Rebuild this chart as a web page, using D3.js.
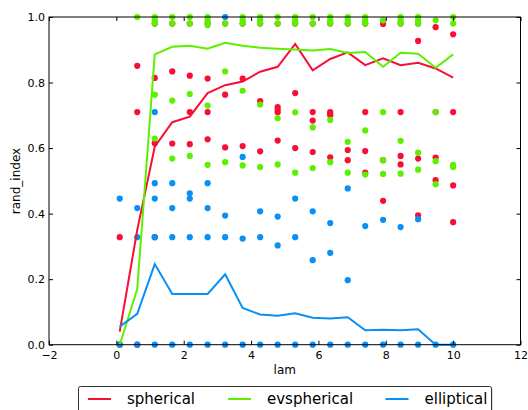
<!DOCTYPE html>
<html>
<head>
<meta charset="utf-8">
<script src="https://cdn.jsdelivr.net/npm/d3@7"></script>
<style>
  body { margin: 0; background: #fff; }
  svg { display: block; font-family: "DejaVu Sans", sans-serif; }
</style>
</head>
<body>
<svg id="chart" width="528" height="410"></svg>
<script>
// lam values used in the sweep
const lam = [0.1, 0.62, 1.14, 1.66, 2.18, 2.71, 3.23, 3.75, 4.27, 4.79,
             5.31, 5.83, 6.35, 6.87, 7.39, 7.92, 8.44, 8.96, 9.48, 10.0];

// individual run scores per lam (visible distinct values)
const sphericalRuns = [
  [0.328, 0], [0.851, 0.710, 0], [0.98, 0.814, 0.615, 0.328], [0.98, 0.834, 0.614],
  [0.98, 0.821, 0.710, 0.612], [0.98, 0.812, 0.710, 0.627], [0.98, 0.763, 0.602],
  [0.98, 0.812, 0.606], [0.98, 0.743, 0.590], [0.98, 0.725, 0.717, 0.709, 0.623],
  [0.98, 0.768, 0.600], [0.98, 0.710, 0.684, 0.588], [0.98, 0.710, 0.705, 0.700, 0.572],
  [0.98, 0.594, 0.563], [0.98, 0.710, 0.591, 0.525], [0.979, 0.563, 0.439],
  [0.98, 0.710, 0.576, 0.550], [0.98, 0.927, 0.568, 0.395], [0.969, 0.710, 0.571, 0.502],
  [0.947, 0.710, 0.486, 0.374]
];
const evsphericalRuns = [
  [0], [1.0], [1.0, 0.99, 0.98, 0.763, 0.629], [1.0, 0.98, 0.745, 0.568],
  [1.0, 0.98, 0.765, 0.576], [1.0, 0.99, 0.975, 0.730, 0.549], [0.98, 0.834, 0.557],
  [1.0, 0.99, 0.98, 0.775, 0.547], [1.0, 0.99, 0.98, 0.733, 0.542], [1.0, 0.98, 0.691, 0.550],
  [1.0, 0.99, 0.98, 0.709, 0.525], [1.0, 0.98, 0.663, 0.539], [1.0, 0.99, 0.98, 0.686, 0.557],
  [1.0, 0.99, 0.98, 0.619, 0.525], [1.0, 0.99, 0.98, 0.654, 0.519], [0.99, 0.710, 0.563, 0.521],
  [1.0, 0.99, 0.98, 0.622, 0.522], [1.0, 0.99, 0.98, 0.586, 0.534], [0.99, 0.710, 0.560, 0.490],
  [1.0, 0.98, 0.549, 0.542]
];
const ellipticalRuns = [
  [0.446, 0], [0.417, 0.328, 0], [0.710, 0.493, 0.446, 0.328, 0], [0.493, 0.417, 0.328, 0],
  [0.462, 0.446, 0.328, 0], [0.493, 0.417, 0.328, 0], [1.0, 0.394, 0.328, 0],
  [0.573, 0.324, 0], [0.407, 0.328, 0], [0.391, 0.303, 0], [0.446, 0.328, 0],
  [0.407, 0.258, 0], [0.371, 0.280, 0], [0.477, 0.197, 0], [0.362, 0], [0.381, 0],
  [0.359, 0], [0.383, 0], [0], [0]
];

// mean score per lam
const sphericalMean = [0.04, 0.35, 0.604, 0.679, 0.696, 0.768, 0.792, 0.803, 0.833, 0.848,
                       0.918, 0.837, 0.872, 0.892, 0.853, 0.874, 0.853, 0.860, 0.843, 0.815];
const evsphericalMean = [0.0, 0.17, 0.886, 0.909, 0.912, 0.903, 0.921, 0.912, 0.906, 0.903,
                         0.901, 0.898, 0.902, 0.890, 0.893, 0.848, 0.891, 0.888, 0.845, 0.886];
const ellipticalMean = [0.055, 0.094, 0.246, 0.155, 0.155, 0.155, 0.215, 0.112, 0.092, 0.088,
                        0.096, 0.082, 0.080, 0.084, 0.044, 0.046, 0.044, 0.047, 0.0, 0.0];

const seriesNames = ["spherical", "evspherical", "elliptical"];
const seriesColors = ["#f70f35", "#5cf000", "#0890f5"];
const xTicks = [-2, 0, 2, 4, 6, 8, 10, 12];
const yTicks = [0, 0.2, 0.4, 0.6, 0.8, 1.0];

const runs = [sphericalRuns, evsphericalRuns, ellipticalRuns];
const means = [sphericalMean, evsphericalMean, ellipticalMean];

const svg = d3.select("#chart");
const plotL = 49, plotR = 520.5, plotT = 17, plotB = 344.7;

const x = d3.scaleLinear().domain([-2, 12]).range([plotL, plotR]);
const y = d3.scaleLinear().domain([0, 1]).range([plotB, plotT]);

// scatter of individual runs
runs.forEach((series, s) => {
  const pts = [];
  series.forEach((vals, i) => vals.forEach(v => pts.push([lam[i], v])));
  svg.append("g").selectAll("circle").data(pts).join("circle")
    .attr("cx", d => x(d[0])).attr("cy", d => y(d[1]))
    .attr("r", 3.1).attr("fill", seriesColors[s]);
});

// mean lines
const line = d3.line().x((d, i) => x(lam[i])).y(d => y(d));
means.forEach((m, s) => {
  svg.append("path").datum(m)
    .attr("d", line).attr("fill", "none")
    .attr("stroke", seriesColors[s]).attr("stroke-width", 2)
    .attr("stroke-linejoin", "miter");
});

// axes with inward ticks on all four sides
const fmtX = d => d < 0 ? "\u2212" + Math.abs(d) : String(d);
const gB = svg.append("g").attr("transform", `translate(0,${plotB})`)
  .call(d3.axisBottom(x).tickValues(xTicks).tickSize(-4).tickSizeOuter(0).tickPadding(7).tickFormat(fmtX));
const gT = svg.append("g").attr("transform", `translate(0,${plotT})`)
  .call(d3.axisTop(x).tickValues(xTicks).tickSize(-4).tickSizeOuter(0).tickFormat(""));
const gL = svg.append("g").attr("transform", `translate(${plotL},0)`)
  .call(d3.axisLeft(y).tickValues(yTicks).tickSize(-4).tickSizeOuter(0).tickPadding(4).tickFormat(d3.format(".1f")));
const gR = svg.append("g").attr("transform", `translate(${plotR},0)`)
  .call(d3.axisRight(y).tickValues(yTicks).tickSize(-4).tickSizeOuter(0).tickFormat(""));
[gB, gT, gL, gR].forEach(g => {
  g.select(".domain").remove();
  g.selectAll("text").attr("font-size", 11).attr("fill", "#000").attr("font-family", "DejaVu Sans, sans-serif");
  g.selectAll("line").attr("stroke", "#000");
});

// frame
svg.append("rect").attr("x", plotL).attr("y", plotT)
  .attr("width", plotR - plotL).attr("height", plotB - plotT)
  .attr("fill", "none").attr("stroke", "#000").attr("stroke-width", 1);

// axis labels
svg.append("text").attr("x", (plotL + plotR) / 2).attr("y", 374)
  .attr("text-anchor", "middle").attr("font-size", 12).text("lam");
svg.append("text").attr("transform", "translate(19.5,181) rotate(-90)")
  .attr("text-anchor", "middle").attr("font-size", 12).text("rand_index");

// legend with a faint drop shadow
const lg = svg.append("g");
lg.append("rect").attr("x", 79.5).attr("y", 387.5).attr("width", 413).attr("height", 40)
  .attr("rx", 2).attr("fill", "#bbb");
lg.append("rect").attr("x", 78.5).attr("y", 386.5).attr("width", 413).attr("height", 40)
  .attr("rx", 2).attr("fill", "#fff").attr("stroke", "#333").attr("stroke-width", 1);
const legX = [88, 228, 385.5];
seriesNames.forEach((name, s) => {
  lg.append("line").attr("x1", legX[s]).attr("x2", legX[s] + 23)
    .attr("y1", 399).attr("y2", 399)
    .attr("stroke", seriesColors[s]).attr("stroke-width", 2);
  lg.append("text").attr("x", legX[s] + 39).attr("y", 403.5)
    .attr("font-size", 15).text(name);
});
</script>
</body>
</html>
